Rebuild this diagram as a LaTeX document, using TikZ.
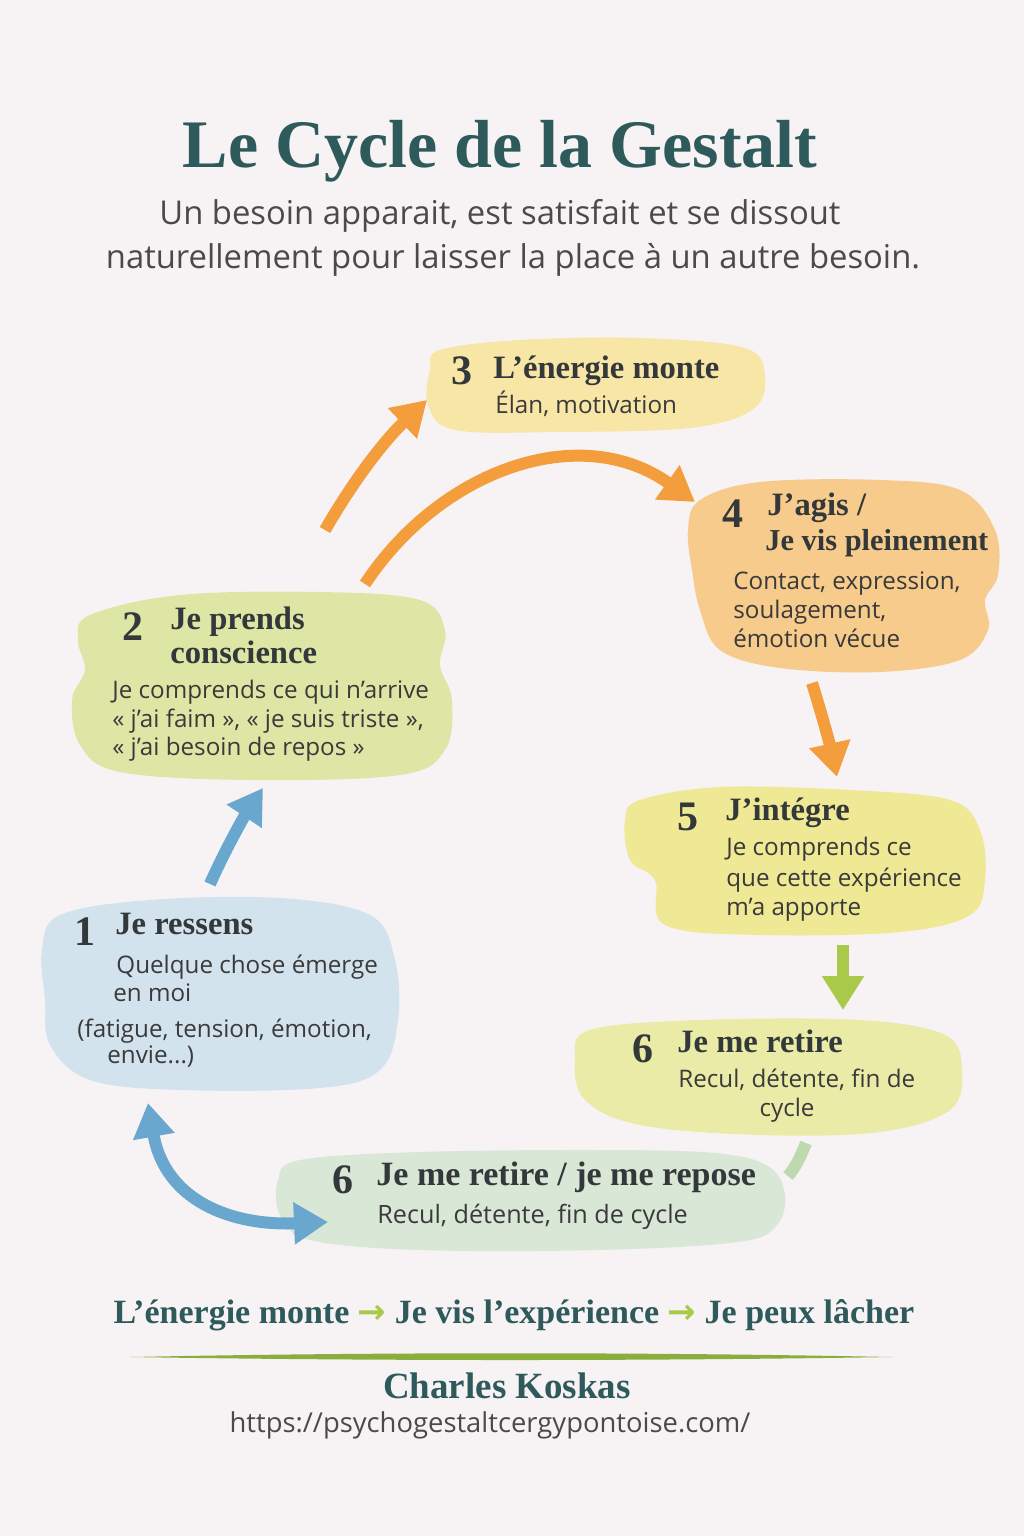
\documentclass[tikz,border=0pt]{standalone}
\usepackage{fontspec}
\setmainfont{Open Sans}
\newfontfamily\hf{Liberation Serif}
\newfontfamily\dv{DejaVu Sans}
\usetikzlibrary{arrows.meta}
\definecolor{bg}{HTML}{F7F3F5}
\definecolor{titlec}{HTML}{2E5A5B}
\definecolor{headc}{HTML}{33383A}
\definecolor{bodyc}{HTML}{3A3A3A}
\definecolor{subc}{HTML}{4A4A4A}
\definecolor{b1}{HTML}{D3E3EE}
\definecolor{b2}{HTML}{DEE6A6}
\definecolor{b3}{HTML}{F8E6A6}
\definecolor{b4}{HTML}{F6CB8C}
\definecolor{b5}{HTML}{EFE894}
\definecolor{b6}{HTML}{E9EBA6}
\definecolor{b7}{HTML}{D8E7D6}
\definecolor{orng}{HTML}{F39D3D}
\definecolor{blu}{HTML}{6AA7CE}
\definecolor{grn}{HTML}{A9C94B}
\definecolor{lgrn}{HTML}{BCDAAE}
\definecolor{lineg}{HTML}{8AAE3C}
\begin{document}
\begin{tikzpicture}[x=0.5pt,y=-0.5pt,
  num/.style={anchor=base, inner sep=0, font=\hf\bfseries\fontsize{21}{24}\selectfont, text=headc},
  head/.style={anchor=base west, inner sep=0, font=\hf\bfseries\fontsize{16.3}{18}\selectfont, text=headc},
  body/.style={anchor=base west, inner sep=0, font=\fontsize{12.1}{14}\selectfont, text=bodyc},
  arr/.style={line width=6pt},
  tipo/.style={-{Triangle[width=20pt,length=17pt]}},
]
\fill[bg] (0,0) rectangle (1024,1536);
\useasboundingbox (0,0) rectangle (1024,1536);

% blobs
\fill[b3] plot[smooth cycle, tension=0.6] coordinates {(440,350) (520,340) (640,338) (745,348) (765,378) (752,410) (690,428) (560,432) (455,430) (428,405) (430,370)};
\fill[b4] plot[smooth cycle, tension=0.6] coordinates {(700,500) (760,482) (880,480) (960,490) (995,530) (998,575) (985,600) (988,630) (960,660) (880,672) (780,668) (720,650) (700,610) (692,570) (688,530)};
\fill[b2] plot[smooth cycle, tension=0.6] coordinates {(90,615) (180,595) (320,592) (420,600) (445,630) (440,665) (452,700) (445,750) (400,775) (250,780) (120,772) (80,745) (72,700) (85,670) (78,640)};
\fill[b5] plot[smooth cycle, tension=0.6] coordinates {(640,800) (720,787) (850,790) (950,800) (980,830) (985,880) (970,915) (900,932) (760,935) (665,925) (655,880) (630,860) (625,820)};
\fill[b1] plot[smooth cycle, tension=0.6] coordinates {(60,915) (150,900) (280,898) (370,915) (395,960) (398,1020) (380,1070) (320,1088) (180,1090) (90,1080) (50,1045) (45,1000) (42,950)};
\fill[b6] plot[smooth cycle, tension=0.6] coordinates {(590,1030) (700,1020) (860,1020) (945,1035) (962,1070) (950,1110) (880,1132) (760,1135) (640,1125) (585,1100) (575,1060)};
\fill[b7] plot[smooth cycle, tension=0.6] coordinates {(300,1160) (420,1152) (600,1150) (715,1153) (768,1166) (785,1195) (776,1226) (738,1242) (600,1250) (420,1250) (310,1240) (280,1215) (278,1180)};

% connector coordinates
\coordinate (c12s) at (210,884);
\coordinate (c12e) at (263,788);
\coordinate (c23s) at (325,530);
\coordinate (c23e) at (427,400);
\coordinate (c24s) at (365,584);
\coordinate (c24e) at (695,502);
\coordinate (c45s) at (812,683);
\coordinate (c45e) at (837,777);
\coordinate (c56s) at (843,945);
\coordinate (c56e) at (843,1010);
\coordinate (c66s) at (806,1143);
\coordinate (c66e) at (788,1176);
\coordinate (c61s) at (148,1103);
\coordinate (c61e) at (328,1222);

% arrows
\draw[arr, blu, tipo] (c12s) .. controls (225,850) and (245,815) .. (c12e);
\draw[arr, orng, tipo] (c23s) .. controls (355,478) and (385,440) .. (c23e);
\draw[arr, orng, tipo] (c24s) .. controls (440,470) and (580,420) .. (c24e);
\draw[arr, orng, tipo] (c45s) .. controls (822,715) and (830,745) .. (c45e);
\draw[arr, grn, tipo] (c56s) -- (c56e);
\draw[arr, lgrn] (c66s) .. controls (800,1158) and (795,1168) .. (c66e);
\draw[arr, blu, {Triangle[width=20pt,length=17pt]}-{Triangle[width=20pt,length=17pt]}] (c61s) .. controls (165,1200) and (230,1226) .. (c61e);

% title
\node[anchor=base, inner sep=0, font=\hf\bfseries\fontsize{34}{38}\selectfont, text=titlec] (title) at (500,168) {Le Cycle de la Gestalt};
\node[anchor=base, inner sep=0, font=\fontsize{16.4}{19}\selectfont, text=subc] (sub1) at (500,224) {Un besoin apparait, est satisfait et se dissout};
\node[anchor=base, inner sep=0, font=\fontsize{16.4}{19}\selectfont, text=subc] (sub2) at (513,268) {naturellement pour laisser la place à un autre besoin.};

% blob 3
\node[num] (n3) at (462,384) {3};
\node[head] (h3) at (493,378) {L’énergie monte};
\node[body] (t3) at (495,413) {Élan, motivation};

% blob 4
\node[num] (n4) at (733,527) {4};
\node[head] (h4a) at (767,515) {J’agis /};
\node[head, font=\hf\bfseries\fontsize{15.2}{18}\selectfont] (h4b) at (765,550) {Je vis pleinement};
\node[body] (t4a) at (733,589) {Contact, expression,};
\node[body] (t4b) at (733,618) {soulagement,};
\node[body] (t4c) at (733,647) {émotion vécue};

% blob 2
\node[num] (n2) at (133,640) {2};
\node[head] (h2a) at (170,629) {Je prends};
\node[head] (h2b) at (170,663) {conscience};
\node[body] (t2a) at (112,698) {Je comprends ce qui n’arrive};
\node[body] (t2b) at (112,727) {« j’ai faim », « je suis triste »,};
\node[body] (t2c) at (112,755) {« j’ai besoin de repos »};

% blob 5
\node[num] (n5) at (688,830) {5};
\node[head] (h5) at (725,820) {J’intégre};
\node[body] (t5a) at (726,855) {Je comprends ce};
\node[body] (t5b) at (726,886) {que cette expérience};
\node[body] (t5c) at (726,915) {m’a apporte};

% blob 1
\node[num] (n1) at (85,945) {1};
\node[head] (h1) at (115,934) {Je ressens};
\node[body] (t1a) at (116,973) {Quelque chose émerge};
\node[body] (t1b) at (113,1001) {en moi};
\node[body] (t1c) at (77,1037) {(fatigue, tension, émotion,};
\node[body] (t1d) at (107,1063) {envie...)};

% blob 6 right
\node[num] (n6) at (643,1062) {6};
\node[head] (h6) at (677,1052) {Je me retire};
\node[body] (t6a) at (678,1087) {Recul, détente, fin de};
\node[body, anchor=base] (t6b) at (787,1116) {cycle};

% blob 6 bottom
\node[num] (n7) at (343,1193) {6};
\node[head, font=\hf\bfseries\fontsize{17}{20}\selectfont] (h7) at (376,1185) {Je me retire / je me repose};
\node[body, font=\fontsize{12.6}{15}\selectfont] (t7) at (377,1223) {Recul, détente, fin de cycle};

% footer
\node[anchor=base, inner sep=0, font=\hf\bfseries\fontsize{17}{20}\selectfont, text=titlec] (foot) at (514,1323)
  {L’énergie monte \textcolor{grn}{\dv →} Je vis l’expérience \textcolor{grn}{\dv →} Je peux lâcher};
\coordinate (gl) at (130,1357);
\coordinate (gr) at (893,1357);
\fill[lineg] (gl) .. controls (380,1352) and (640,1352) .. (gr) .. controls (640,1361) and (380,1361) .. (gl) -- cycle;
\node[anchor=base, inner sep=0, font=\hf\bfseries\fontsize{18.5}{22}\selectfont, text=titlec] (auth) at (507,1398) {Charles Koskas};
\node[anchor=base, inner sep=0, font=\fontsize{13.7}{16}\selectfont, text=subc] (url) at (490,1432) {https://psychogestaltcergypontoise.com/};
\end{tikzpicture}
\end{document}
